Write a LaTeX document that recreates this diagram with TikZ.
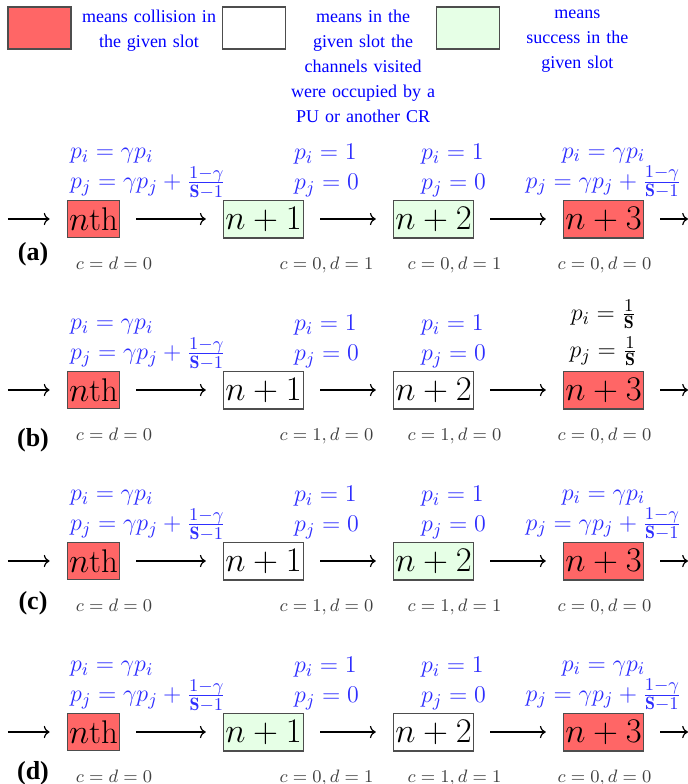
\documentclass[tikz,border=0pt]{standalone}
\usepackage{xcolor}
\usepackage{fontspec}
\usepackage{tikz}
\usetikzlibrary{positioning, arrows.meta}
\newfontfamily\legendfont{Liberation Serif}
\definecolor{collred}{HTML}{FF6666}
\definecolor{succgreen}{HTML}{E6FFE6}
\definecolor{probblue}{HTML}{2E2EFF}
\definecolor{edgegray}{HTML}{4D4D4D}

\begin{document}
\begin{tikzpicture}[
    >={Computer Modern Rightarrow},
    node distance=85pt,
    slot/.style={rectangle, draw=edgegray, line width=0.6pt, on grid,
                minimum height=16.5pt, inner xsep=1pt,
                font=\fontsize{16.4}{18}\selectfont},
    coll/.style={slot, fill=collred},
    busy/.style={slot, fill=white},
    succ/.style={slot, fill=succgreen},
    legbox/.style={rectangle, draw=edgegray, line width=0.6pt,
                minimum width=31.5pt, minimum height=21pt},
    legtext/.style={text width=78pt, align=center, inner sep=1.5pt,
                text=blue, font=\legendfont\fontsize{9}{12.5}\selectfont},
    prob/.style={inner sep=0pt, align=left, text=probblue,
                font=\fontsize{12.8}{15}\selectfont},
    cnt/.style={inner sep=1pt, text=black!75, text height=6.5pt, text depth=2pt,
                font=\fontsize{9}{11}\selectfont},
    tag/.style={font=\legendfont\fontsize{13}{14}\selectfont\bfseries},
    line/.style={->, line width=0.6pt, shorten <=8pt, shorten >=8.5pt}
  ]
  \useasboundingbox (0,0) rectangle (344pt,-392pt);

  % Legend
  \node[legbox, fill=collred] (legcoll) at (19.75pt,-14pt) {};
  \node[legtext, below right=0pt and -2pt of legcoll.north east] (legcolltext) {means collision in\\the given slot};
  \node[legbox, fill=white] (legbusy) [right=75pt of legcoll] {};
  \node[legtext, below right=0pt and -2pt of legbusy.north east] (legbusytext) {means in the\\given slot the\\channels visited\\were occupied by a\\PU or another CR};
  \node[legbox, fill=succgreen] (legsucc) [right=75pt of legbusy] {};
  \node[legtext, below right=0pt and -2pt of legsucc.north east] (legsucctext) {means\\success in the\\given slot};

  % Row (a)
  \node[coll] (a0) at (46.75pt,-109.5pt) {$n$th};
  \node[succ] (a1) [right=of a0] {$n+1$};
  \node[succ] (a2) [right=of a1] {$n+2$};
  \node[coll] (a3) [right=of a2] {$n+3$};
  \node[tag] (taga) at (16.5pt,-127pt) {(a)};
  \node[prob, above right=0.5pt and 1.5pt of a0.north west] (pa0) {$p_i=\gamma p_i$\\$p_j=\gamma p_j+\frac{1-\gamma}{\mathbf{S}-1}$};
  \node[prob, above right=1.3pt and 35.5pt of a1.north west] (pa1) {$p_i=1$\\$p_j=0$};
  \node[prob, above right=1.3pt and 14pt of a2.north west] (pa2) {$p_i=1$\\$p_j=0$};
  \node[prob, align=center, above=0.5pt of a3] (pa3) {$p_i=\gamma p_i$\\$p_j=\gamma p_j+\frac{1-\gamma}{\mathbf{S}-1}$};
  \node[cnt, below=8pt of a0, xshift=10.25pt] (ca0) {$c=d=0$};
  \node[cnt, below=8pt of a1, xshift=31.5pt] (ca1) {$c=0,d=1$};
  \node[cnt, below=8pt of a2, xshift=10.5pt] (ca2) {$c=0,d=1$};
  \node[cnt, below=8pt of a3, xshift=0.5pt] (ca3) {$c=0,d=0$};
  \coordinate (ain) at (4pt,0 |- a0);
  \coordinate (aout) at (344pt,0 |- a3);
  \draw[line, shorten <=0pt] (ain) -- (a0);
  \draw[line] (a0) -- (a1);
  \draw[line] (a1) -- (a2);
  \draw[line] (a2) -- (a3);
  \draw[line, shorten >=0pt] (a3) -- (aout);

  % Row (b)
  \node[coll] (b0) [below=85.5pt of a0] {$n$th};
  \node[busy] (b1) [right=of b0] {$n+1$};
  \node[busy] (b2) [right=of b1] {$n+2$};
  \node[coll] (b3) [right=of b2] {$n+3$};
  \node[tag] (tagb) at (16.5pt,-220pt) {(b)};
  \node[prob, above right=0.5pt and 1.5pt of b0.north west] (pb0) {$p_i=\gamma p_i$\\$p_j=\gamma p_j+\frac{1-\gamma}{\mathbf{S}-1}$};
  \node[prob, above right=1.3pt and 35.5pt of b1.north west] (pb1) {$p_i=1$\\$p_j=0$};
  \node[prob, above right=1.3pt and 14pt of b2.north west] (pb2) {$p_i=1$\\$p_j=0$};
  \node[prob, align=center, text=black, above=2pt of b3] (pb3) {$p_i=\frac{1}{\mathbf{S}}$\\[3.5pt]$p_j=\frac{1}{\mathbf{S}}$};
  \node[cnt, below=8pt of b0, xshift=10.25pt] (cb0) {$c=d=0$};
  \node[cnt, below=8pt of b1, xshift=31.5pt] (cb1) {$c=1,d=0$};
  \node[cnt, below=8pt of b2, xshift=10.5pt] (cb2) {$c=1,d=0$};
  \node[cnt, below=8pt of b3, xshift=0.5pt] (cb3) {$c=0,d=0$};
  \coordinate (bin) at (4pt,0 |- b0);
  \coordinate (bout) at (344pt,0 |- b3);
  \draw[line, shorten <=0pt] (bin) -- (b0);
  \draw[line] (b0) -- (b1);
  \draw[line] (b1) -- (b2);
  \draw[line] (b2) -- (b3);
  \draw[line, shorten >=0pt] (b3) -- (bout);

  % Row (c)
  \node[coll] (c0) [below=85.5pt of b0] {$n$th};
  \node[busy] (c1) [right=of c0] {$n+1$};
  \node[succ] (c2) [right=of c1] {$n+2$};
  \node[coll] (c3) [right=of c2] {$n+3$};
  \node[tag] (tagc) at (16.5pt,-301.5pt) {(c)};
  \node[prob, above right=0.5pt and 1.5pt of c0.north west] (pc0) {$p_i=\gamma p_i$\\$p_j=\gamma p_j+\frac{1-\gamma}{\mathbf{S}-1}$};
  \node[prob, above right=1.3pt and 35.5pt of c1.north west] (pc1) {$p_i=1$\\$p_j=0$};
  \node[prob, above right=1.3pt and 14pt of c2.north west] (pc2) {$p_i=1$\\$p_j=0$};
  \node[prob, align=center, above=0.5pt of c3] (pc3) {$p_i=\gamma p_i$\\$p_j=\gamma p_j+\frac{1-\gamma}{\mathbf{S}-1}$};
  \node[cnt, below=8pt of c0, xshift=10.25pt] (cc0) {$c=d=0$};
  \node[cnt, below=8pt of c1, xshift=31.5pt] (cc1) {$c=1,d=0$};
  \node[cnt, below=8pt of c2, xshift=10.5pt] (cc2) {$c=1,d=1$};
  \node[cnt, below=8pt of c3, xshift=0.5pt] (cc3) {$c=0,d=0$};
  \coordinate (cin) at (4pt,0 |- c0);
  \coordinate (cout) at (344pt,0 |- c3);
  \draw[line, shorten <=0pt] (cin) -- (c0);
  \draw[line] (c0) -- (c1);
  \draw[line] (c1) -- (c2);
  \draw[line] (c2) -- (c3);
  \draw[line, shorten >=0pt] (c3) -- (cout);

  % Row (d)
  \node[coll] (d0) [below=85.5pt of c0] {$n$th};
  \node[succ] (d1) [right=of d0] {$n+1$};
  \node[busy] (d2) [right=of d1] {$n+2$};
  \node[coll] (d3) [right=of d2] {$n+3$};
  \node[tag] (tagd) at (16.5pt,-386.5pt) {(d)};
  \node[prob, above right=0.5pt and 1.5pt of d0.north west] (pd0) {$p_i=\gamma p_i$\\$p_j=\gamma p_j+\frac{1-\gamma}{\mathbf{S}-1}$};
  \node[prob, above right=1.3pt and 35.5pt of d1.north west] (pd1) {$p_i=1$\\$p_j=0$};
  \node[prob, above right=1.3pt and 14pt of d2.north west] (pd2) {$p_i=1$\\$p_j=0$};
  \node[prob, align=center, above=0.5pt of d3] (pd3) {$p_i=\gamma p_i$\\$p_j=\gamma p_j+\frac{1-\gamma}{\mathbf{S}-1}$};
  \node[cnt, below=8pt of d0, xshift=10.25pt] (cd0) {$c=d=0$};
  \node[cnt, below=8pt of d1, xshift=31.5pt] (cd1) {$c=0,d=1$};
  \node[cnt, below=8pt of d2, xshift=10.5pt] (cd2) {$c=1,d=1$};
  \node[cnt, below=8pt of d3, xshift=0.5pt] (cd3) {$c=0,d=0$};
  \coordinate (din) at (4pt,0 |- d0);
  \coordinate (dout) at (344pt,0 |- d3);
  \draw[line, shorten <=0pt] (din) -- (d0);
  \draw[line] (d0) -- (d1);
  \draw[line] (d1) -- (d2);
  \draw[line] (d2) -- (d3);
  \draw[line, shorten >=0pt] (d3) -- (dout);
\end{tikzpicture}
\end{document}
